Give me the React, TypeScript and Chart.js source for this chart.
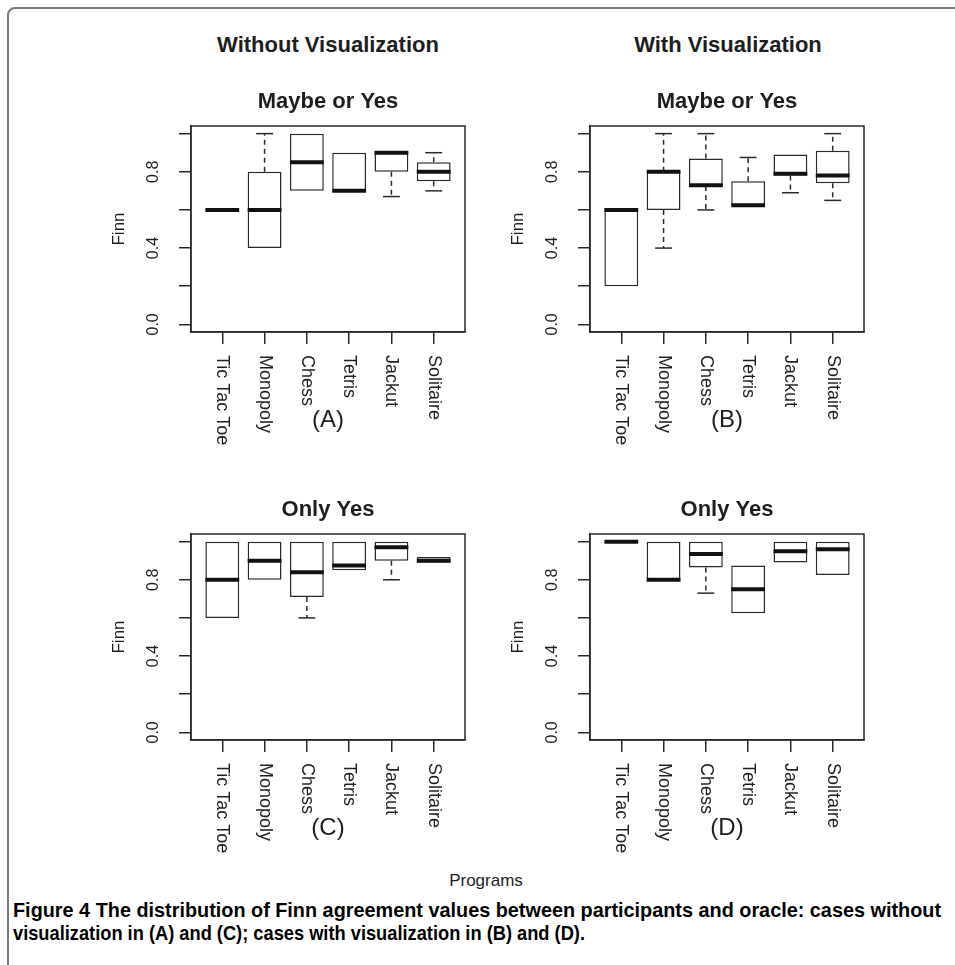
import React, { useEffect, useLayoutEffect, useRef } from "react";
import { Chart, registerables } from "chart.js";
Chart.register(...registerables);

// ---------- data ----------
const programs = ["Tic Tac Toe", "Monopoly", "Chess", "Tetris", "Jackut", "Solitaire"];
const positions = [1, 2, 3, 4, 5, 6];
const yTicks = [0, 0.2, 0.4, 0.6, 0.8, 1.0];
const yTickLabels = ["0.0", "", "0.4", "", "0.8", ""];
const columnTitles = ["Without Visualization", "With Visualization"];
const rowTitles = ["Maybe or Yes", "Only Yes"];
const panelTags = ["(A)", "(B)", "(C)", "(D)"];
const yLabel = "Finn";
const xLabel = "Programs";
const captionLine1 =
  "Figure 4 The distribution of Finn agreement values between participants and oracle: cases without";
const captionLine2 = "visualization in (A) and (C); cases with visualization in (B) and (D).";

// (A) without visualization, maybe or yes
const aLow = [0.6, 0.4, 0.7, 0.7, 0.67, 0.7];
const aQ1 = [0.6, 0.4, 0.7, 0.7, 0.8, 0.75];
const aMed = [0.6, 0.6, 0.85, 0.7, 0.9, 0.8];
const aQ3 = [0.6, 0.8, 1.0, 0.9, 0.9, 0.85];
const aHigh = [0.6, 1.0, 1.0, 0.9, 0.9, 0.9];

// (B) with visualization, maybe or yes
const bLow = [0.2, 0.4, 0.6, 0.625, 0.69, 0.65];
const bQ1 = [0.2, 0.6, 0.725, 0.625, 0.78, 0.74];
const bMed = [0.6, 0.8, 0.73, 0.625, 0.79, 0.78];
const bQ3 = [0.6, 0.8, 0.87, 0.75, 0.89, 0.91];
const bHigh = [0.6, 1.0, 1.0, 0.875, 0.89, 1.0];

// (C) without visualization, only yes
const cLow = [0.6, 0.8, 0.6, 0.85, 0.8, 0.89];
const cQ1 = [0.6, 0.8, 0.71, 0.85, 0.9, 0.89];
const cMed = [0.8, 0.9, 0.84, 0.875, 0.97, 0.9];
const cQ3 = [1.0, 1.0, 1.0, 1.0, 1.0, 0.92];
const cHigh = [1.0, 1.0, 1.0, 1.0, 1.0, 0.92];

// (D) with visualization, only yes
const dLow = [1.0, 0.8, 0.73, 0.625, 0.89, 0.825];
const dQ1 = [1.0, 0.8, 0.865, 0.625, 0.89, 0.825];
const dMed = [1.0, 0.8, 0.935, 0.75, 0.95, 0.96];
const dQ3 = [1.0, 1.0, 1.0, 0.875, 1.0, 1.0];
const dHigh = [1.0, 1.0, 1.0, 0.875, 1.0, 1.0];

// ---------- style ----------
const INK = "#2a2a2a";
const TEXT = "#1e1e1e";
const FONT = '"Liberation Sans", Arial, Helvetica, sans-serif';

const PAD_L = 100;
const PAD_T = 60;
const PAD_R = 20;
const PAD_B = 130;
const PLOT_W = 274;
const PLOT_H = 206;
const TICK = 12;
const CW = PLOT_W + PAD_L + PAD_R;
const CH = PLOT_H + PAD_T + PAD_B;

type Stats = { low: number[]; q1: number[]; med: number[]; q3: number[]; high: number[] };

function Panel(props: { stats: Stats; title: string; tag: string; plotLeft: number; plotTop: number }) {
  const ref = useRef<HTMLCanvasElement>(null);
  const { stats, title, tag, plotLeft, plotTop } = props;

  useEffect(() => {
    const plugin = {
      id: "rbox",
      afterDatasetsDraw(chart: any) {
        const { ctx, chartArea: ca } = chart;
        const x = chart.scales.x;
        const y = chart.scales.y;
        ctx.save();
        ctx.strokeStyle = INK;
        ctx.lineWidth = 1.5;
        ctx.strokeRect(ca.left, ca.top, ca.right - ca.left, ca.bottom - ca.top);
        stats.med.forEach((m, i) => {
          const cx = x.getPixelForValue(positions[i]);
          const half = x.getPixelForValue(positions[i] + 0.4) - cx;
          const cap = half / 2;
          ctx.strokeStyle = INK;
          ctx.lineWidth = 1.5;
          ctx.lineCap = "butt";
          const whisker = (from: number, to: number) => {
            ctx.setLineDash([5, 4]);
            ctx.beginPath();
            ctx.moveTo(cx, y.getPixelForValue(from));
            ctx.lineTo(cx, y.getPixelForValue(to));
            ctx.stroke();
            ctx.setLineDash([]);
            ctx.beginPath();
            ctx.moveTo(cx - cap, y.getPixelForValue(to));
            ctx.lineTo(cx + cap, y.getPixelForValue(to));
            ctx.stroke();
          };
          if (stats.high[i] > stats.q3[i]) whisker(stats.q3[i], stats.high[i]);
          if (stats.low[i] < stats.q1[i]) whisker(stats.q1[i], stats.low[i]);
          ctx.setLineDash([]);
          ctx.strokeStyle = "#111";
          ctx.lineWidth = 4;
          ctx.beginPath();
          ctx.moveTo(cx - half, y.getPixelForValue(m));
          ctx.lineTo(cx + half, y.getPixelForValue(m));
          ctx.stroke();
        });
        ctx.restore();
      },
      afterDraw(chart: any) {
        const { ctx, chartArea: ca } = chart;
        const x = chart.scales.x;
        const y = chart.scales.y;
        const midX = (ca.left + ca.right) / 2;
        const midY = (ca.top + ca.bottom) / 2;
        ctx.save();
        ctx.fillStyle = TEXT;
        // title
        ctx.font = `bold 22px ${FONT}`;
        ctx.textAlign = "center";
        ctx.textBaseline = "alphabetic";
        ctx.fillText(title, midX, ca.top - 18);
        // y label
        ctx.font = `17px ${FONT}`;
        ctx.save();
        ctx.translate(ca.left - 72, midY);
        ctx.rotate(-Math.PI / 2);
        ctx.textBaseline = "middle";
        ctx.fillText(yLabel, 0, 0);
        ctx.restore();
        // y tick labels
        ctx.font = `16px ${FONT}`;
        yTicks.forEach((v, i) => {
          if (!yTickLabels[i]) return;
          ctx.save();
          ctx.translate(ca.left - 37, y.getPixelForValue(v));
          ctx.rotate(-Math.PI / 2);
          ctx.textAlign = "center";
          ctx.textBaseline = "middle";
          ctx.fillText(yTickLabels[i], 0, 0);
          ctx.restore();
        });
        // x tick labels, rotated reading downwards
        ctx.font = `18px ${FONT}`;
        positions.forEach((p, i) => {
          ctx.save();
          ctx.translate(x.getPixelForValue(p), ca.bottom + 23);
          ctx.rotate(Math.PI / 2);
          ctx.textAlign = "left";
          ctx.textBaseline = "middle";
          ctx.fillText(programs[i], 0, 0);
          ctx.restore();
        });
        // panel tag
        ctx.font = `24px ${FONT}`;
        ctx.textAlign = "center";
        ctx.textBaseline = "middle";
        ctx.fillText(tag, midX, ca.bottom + 88);
        ctx.restore();
      },
    };

    const gridOpts = {
      display: true,
      offset: false,
      drawOnChartArea: false,
      drawTicks: true,
      tickLength: TICK,
      color: INK,
      lineWidth: 1.5,
    };
    const chart = new Chart(ref.current as HTMLCanvasElement, {
      type: "bar",
      data: {
        datasets: [
          {
            data: positions.map((p, i) => ({ x: p, y: [stats.q1[i], stats.q3[i]] })) as any,
            backgroundColor: "#ffffff",
            borderColor: INK,
            borderWidth: 1.5,
            borderSkipped: false,
            categoryPercentage: 1,
            barPercentage: 0.8,
          } as any,
        ],
      },
      options: {
        animation: false,
        responsive: false,
        maintainAspectRatio: false,
        events: [],
        layout: { padding: { left: PAD_L - TICK, top: PAD_T, right: PAD_R, bottom: PAD_B - TICK } },
        plugins: { legend: { display: false }, tooltip: { enabled: false }, title: { display: false } },
        scales: {
          x: {
            type: "linear",
            min: 0.26,
            max: 6.74,
            offset: false,
            afterBuildTicks: (axis: any) => {
              axis.ticks = positions.map((v) => ({ value: v }));
            },
            ticks: { display: false },
            grid: gridOpts,
            border: { display: true, color: INK, width: 1.5 },
          },
          y: {
            type: "linear",
            min: -0.04,
            max: 1.04,
            afterBuildTicks: (axis: any) => {
              axis.ticks = yTicks.map((v) => ({ value: v }));
            },
            ticks: { display: false },
            grid: gridOpts,
            border: { display: true, color: INK, width: 1.5 },
          },
        },
      } as any,
      plugins: [plugin],
    });
    return () => chart.destroy();
  }, []);

  return (
    <canvas
      ref={ref}
      width={CW}
      height={CH}
      style={{ position: "absolute", left: plotLeft - PAD_L, top: plotTop - PAD_T, width: CW, height: CH }}
    />
  );
}

export default function App() {
  const line1Ref = useRef<HTMLSpanElement>(null);
  const line2Ref = useRef<HTMLSpanElement>(null);

  useLayoutEffect(() => {
    const fit = (el: HTMLSpanElement | null, target: number) => {
      if (!el) return;
      const w = el.getBoundingClientRect().width;
      if (w > 0) el.style.transform = `scaleX(${target / w})`;
    };
    fit(line1Ref.current, 928);
    fit(line2Ref.current, 572);
  }, []);

  const A: Stats = { low: aLow, q1: aQ1, med: aMed, q3: aQ3, high: aHigh };
  const B: Stats = { low: bLow, q1: bQ1, med: bMed, q3: bQ3, high: bHigh };
  const C: Stats = { low: cLow, q1: cQ1, med: cMed, q3: cQ3, high: cHigh };
  const D: Stats = { low: dLow, q1: dQ1, med: dMed, q3: dQ3, high: dHigh };

  const headStyle: React.CSSProperties = {
    position: "absolute",
    top: 34,
    width: 400,
    textAlign: "center",
    font: `bold 22px/22px ${FONT}`,
    color: TEXT,
  };
  const capLine: React.CSSProperties = {
    position: "absolute",
    left: 13,
    display: "inline-block",
    transformOrigin: "0 0",
    whiteSpace: "nowrap",
    font: `bold 21px/23px "Liberation Sans Narrow", "Liberation Sans", Arial, sans-serif`,
    color: "#000",
  };

  return (
    <div
      style={{
        position: "absolute",
        left: 0,
        top: 0,
        width: 955,
        height: 965,
        overflow: "hidden",
        background: "#ffffff",
      }}
    >
      <div
        style={{
          position: "absolute",
          left: 7,
          top: 7,
          width: 1000,
          height: 1000,
          border: "2px solid #7c7c7c",
          borderTopLeftRadius: 8,
        }}
      />
      <div style={{ ...headStyle, left: 128 }}>{columnTitles[0]}</div>
      <div style={{ ...headStyle, left: 528 }}>{columnTitles[1]}</div>
      <Panel stats={A} title={rowTitles[0]} tag={panelTags[0]} plotLeft={191} plotTop={126} />
      <Panel stats={B} title={rowTitles[0]} tag={panelTags[1]} plotLeft={590} plotTop={126} />
      <Panel stats={C} title={rowTitles[1]} tag={panelTags[2]} plotLeft={191} plotTop={534} />
      <Panel stats={D} title={rowTitles[1]} tag={panelTags[3]} plotLeft={590} plotTop={534} />
      <div
        style={{
          position: "absolute",
          left: 386,
          top: 872,
          width: 200,
          textAlign: "center",
          font: `17px/17px ${FONT}`,
          color: TEXT,
        }}
      >
        {xLabel}
      </div>
      <span ref={line1Ref} style={{ ...capLine, top: 898 }}>
        {captionLine1}
      </span>
      <span ref={line2Ref} style={{ ...capLine, top: 921 }}>
        {captionLine2}
      </span>
    </div>
  );
}
